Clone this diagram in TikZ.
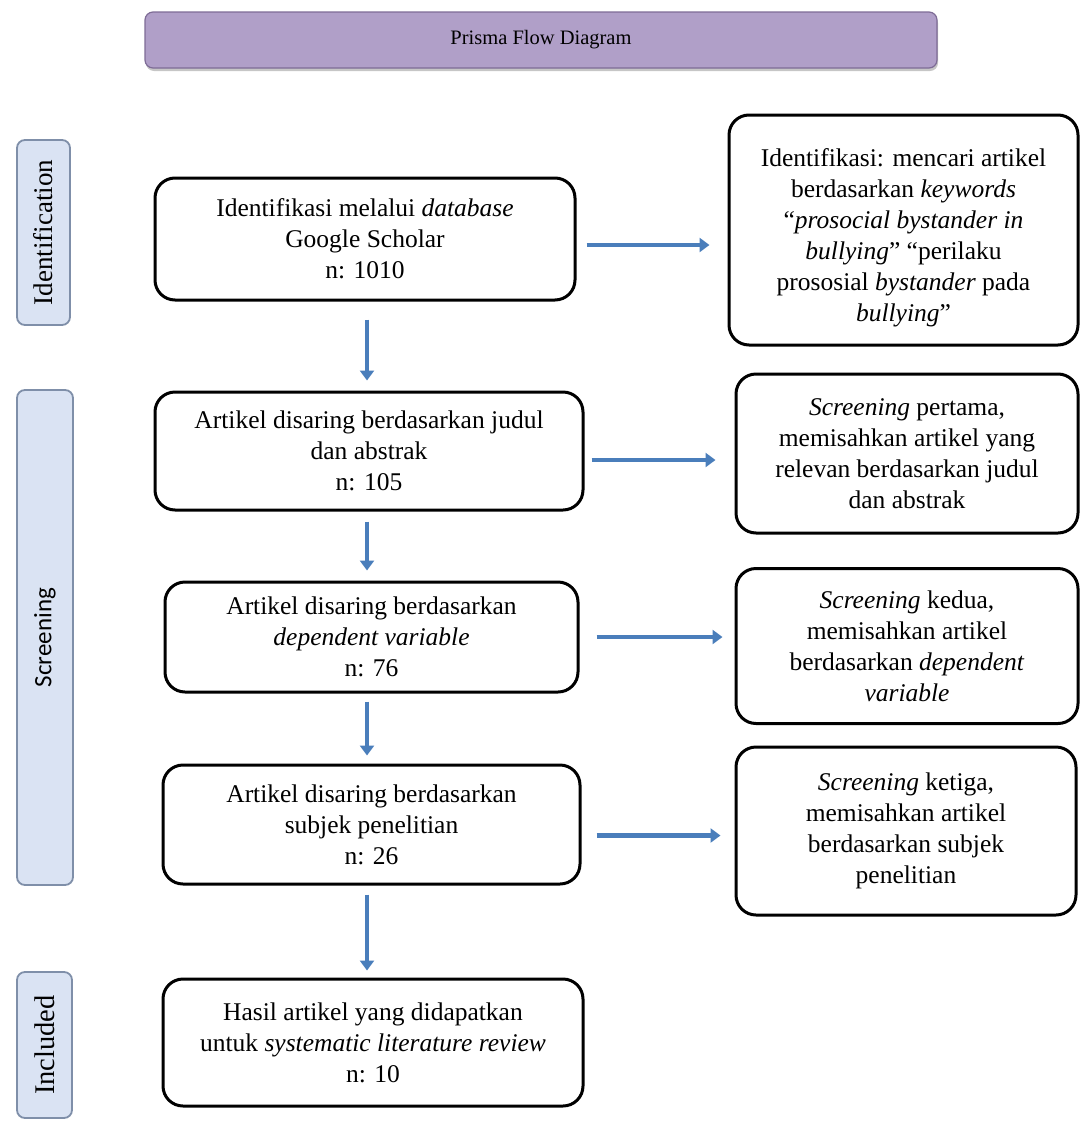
\documentclass[tikz,border=0pt]{standalone}
\usepackage{fontspec}
\setmainfont{Liberation Serif}
\newfontfamily\scrfont{Carlito}
\usetikzlibrary{arrows.meta,shadows,calc}
\definecolor{arrowblue}{HTML}{4A7EBB}
\definecolor{sidefill}{HTML}{DAE3F3}
\definecolor{sideline}{HTML}{7F8FA9}
\definecolor{titlefill}{HTML}{B09FC8}
\definecolor{titleline}{HTML}{7E6C96}
\tikzset{
  mainbox/.style={draw=black, line width=3pt, rounded corners=20pt, align=center,
    font=\fontsize{25.5}{31}\selectfont, inner sep=0pt},
  sidebox/.style={draw=sideline, line width=1.8pt, fill=sidefill, rounded corners=8pt,
    font=\fontsize{27}{30}\selectfont, inner sep=0pt, rotate=90},
  arr/.style={draw=arrowblue, line width=4.5pt, -{Triangle[width=14pt,length=10pt]}},
}
\begin{document}
\begin{tikzpicture}[x=1pt,y=-1pt]
\useasboundingbox (0,0) rectangle (1081,1122);
% title
\node[draw=titleline, line width=1.2pt, fill=titlefill, rounded corners=8pt,
  minimum width=792pt, minimum height=56pt, inner sep=0pt,
  drop shadow={shadow xshift=1pt, shadow yshift=-3pt, opacity=0.45},
  font=\fontsize{20.5}{24}\selectfont] (title) at (541,40) {Prisma Flow Diagram};
% side labels
\node[sidebox, minimum width=185pt, minimum height=53pt] (sid) at (43.5,232.5) {Identification};
\node[sidebox, minimum width=495pt, minimum height=56pt, font=\scrfont\fontsize{25}{28}\selectfont] (ssc) at (45,637.5) {Screening};
\node[sidebox, minimum width=146pt, minimum height=55pt, font=\fontsize{28.5}{30}\selectfont] (sin) at (44.5,1045) {Included};
% main boxes
\node[mainbox, minimum width=420pt, minimum height=122pt] (b1) at (365,239)
  {Identifikasi melalui \textit{database}\\ Google Scholar\\ n: 1010};
\node[mainbox, minimum width=428pt, minimum height=118pt] (b2) at (369,451)
  {Artikel disaring berdasarkan judul\\ dan abstrak\\ n: 105};
\node[mainbox, minimum width=413pt, minimum height=110pt] (b3) at (371.5,637)
  {Artikel disaring berdasarkan\\ \textit{dependent variable}\\ n: 76};
\node[mainbox, minimum width=417pt, minimum height=119pt] (b4) at (371.5,824.5)
  {Artikel disaring berdasarkan\\ subjek penelitian\\ n: 26};
\node[mainbox, minimum width=420pt, minimum height=127pt] (b5) at (373,1042.5)
  {Hasil artikel yang didapatkan\\ untuk \textit{systematic literature review}\\ n: 10};
% right boxes
\node[mainbox, minimum width=349pt, minimum height=230pt] (r1) at (903.5,230)
  {\rule{0pt}{34pt}Identifikasi: mencari artikel\\ berdasarkan \textit{keywords}\\ ``\textit{prosocial bystander in}\\ \textit{bullying}'' ``perilaku\\ prososial \textit{bystander} pada\\ \textit{bullying}''};
\node[mainbox, minimum width=342pt, minimum height=159pt] (r2) at (907,453.5)
  {\textit{Screening} pertama,\\ memisahkan artikel yang\\ relevan berdasarkan judul\\ dan abstrak};
\node[mainbox, minimum width=342pt, minimum height=155pt] (r3) at (907,646)
  {\textit{Screening} kedua,\\ memisahkan artikel\\ berdasarkan \textit{dependent}\\ \textit{variable}};
\node[mainbox, minimum width=340pt, minimum height=168pt] (r4) at (906,831)
  {\textit{Screening} ketiga,\\ memisahkan artikel\\ berdasarkan subjek\\ penelitian};
% vertical arrows
\coordinate (ax) at (367,0);
\draw[arr, shorten <=18pt, shorten >=10pt] (b1.south -| ax) -- (b2.north -| ax);
\draw[arr, shorten <=10pt, shorten >=10pt] (b2.south -| ax) -- (b3.north -| ax);
\draw[arr, shorten <=8pt, shorten >=8pt] (b3.south -| ax) -- (b4.north -| ax);
\draw[arr, shorten <=9pt, shorten >=7pt] (b4.south -| ax) -- (b5.north -| ax);
% horizontal arrows
\draw[arr, shorten <=10pt, shorten >=18pt] ([yshift=-6pt]b1.east) -- ([yshift=-6pt]b1.east -| r1.west);
\draw[arr, shorten <=7pt, shorten >=19pt] ([yshift=-9pt]b2.east) -- ([yshift=-9pt]b2.east -| r2.west);
\draw[arr, shorten <=17pt, shorten >=12pt] (b3.east) -- (b3.east -| r3.west);
\draw[arr, shorten <=15pt, shorten >=14pt] ([yshift=-11pt]b4.east) -- ([yshift=-11pt]b4.east -| r4.west);
\end{tikzpicture}
\end{document}
